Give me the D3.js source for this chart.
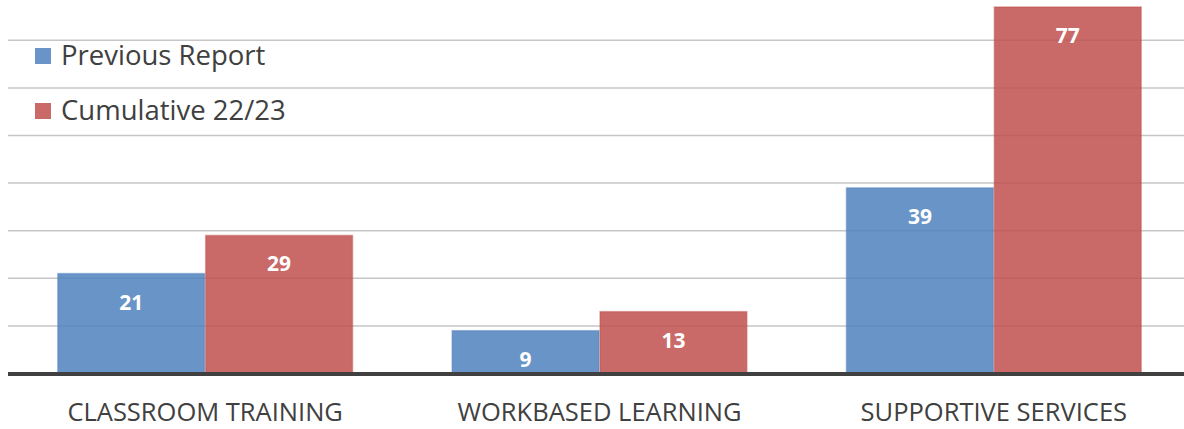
<!DOCTYPE html>
<html>
<head>
<meta charset="utf-8">
<script src="https://cdn.jsdelivr.net/npm/d3@7"></script>
<style>
  html, body { margin: 0; padding: 0; background: #fff; }
  svg { display: block; font-family: "Open Sans", sans-serif; }
</style>
</head>
<body>
<div id="chart"></div>
<script>
// datos del gráfico
const categorias = ["CLASSROOM TRAINING", "WORKBASED LEARNING", "SUPPORTIVE SERVICES"];
const series = ["Previous Report", "Cumulative 22/23"];
const previo = [21, 9, 39];
const acumulado = [29, 13, 77];
const ticksY = [10, 20, 30, 40, 50, 60, 70];

const colores = { "Previous Report": "#4F81BD", "Cumulative 22/23": "#C0504D" };

const width = 1184;
const height = 429;

const svg = d3.select("#chart")
  .append("svg")
  .attr("width", width)
  .attr("height", height);

// escalas
const x0 = d3.scaleBand()
  .domain(categorias)
  .range([8, 1191])
  .paddingInner(0.25)
  .paddingOuter(0.125);

const x1 = d3.scaleBand()
  .domain(series)
  .range([0, x0.bandwidth()]);

const y = d3.scaleLinear()
  .domain([0, 80])
  .range([373.5, -7.3]);

// líneas de cuadrícula
svg.append("g")
  .selectAll("line")
  .data(ticksY)
  .join("line")
  .attr("x1", 8)
  .attr("x2", width)
  .attr("y1", d => y(d))
  .attr("y2", d => y(d))
  .attr("stroke", "#c6c6c6")
  .attr("stroke-width", 1.5);

// barras
const filas = categorias.map((c, i) => ({
  cat: c,
  valores: [
    { serie: series[0], valor: previo[i] },
    { serie: series[1], valor: acumulado[i] }
  ]
}));

const grupos = svg.append("g")
  .selectAll("g")
  .data(filas)
  .join("g")
  .attr("transform", d => `translate(${x0(d.cat)},0)`);

grupos.selectAll("rect")
  .data(d => d.valores)
  .join("rect")
  .attr("x", d => x1(d.serie) + 0.5)
  .attr("y", d => y(d.valor))
  .attr("width", x1.bandwidth() - 1)
  .attr("height", d => y(0) - y(d.valor))
  .attr("fill", d => colores[d.serie])
  .attr("fill-opacity", 0.85)
  .attr("stroke", d => colores[d.serie])
  .attr("stroke-opacity", 0.45)
  .attr("stroke-width", 1.5);

grupos.selectAll("text")
  .data(d => d.valores)
  .join("text")
  .attr("x", d => x1(d.serie) + x1.bandwidth() / 2)
  .attr("y", d => y(d.valor) + 36)
  .attr("text-anchor", "middle")
  .attr("fill", "#fff")
  .style("font-size", "21px")
  .style("font-weight", "bold")
  .text(d => d.valor);

// eje x
svg.append("line")
  .attr("x1", 8)
  .attr("x2", width)
  .attr("y1", y(0) + 0.5)
  .attr("y2", y(0) + 0.5)
  .attr("stroke", "#404040")
  .attr("stroke-width", 4);

svg.append("g")
  .selectAll("text")
  .data(categorias)
  .join("text")
  .attr("x", d => x0(d) + x0.bandwidth() / 2)
  .attr("y", 421)
  .attr("text-anchor", "middle")
  .attr("fill", "#404040")
  .style("font-size", "25.5px")
  .text(d => d);

// leyenda
const leyenda = svg.append("g")
  .selectAll("g")
  .data(series)
  .join("g")
  .attr("transform", (d, i) => `translate(35,${48 + i * 55})`);

leyenda.append("rect")
  .attr("width", 16)
  .attr("height", 16)
  .attr("fill", d => colores[d])
  .attr("fill-opacity", 0.85);

leyenda.append("text")
  .attr("x", 26)
  .attr("y", 17)
  .attr("fill", "#404040")
  .style("font-size", "27.5px")
  .text(d => d);
</script>
</body>
</html>
